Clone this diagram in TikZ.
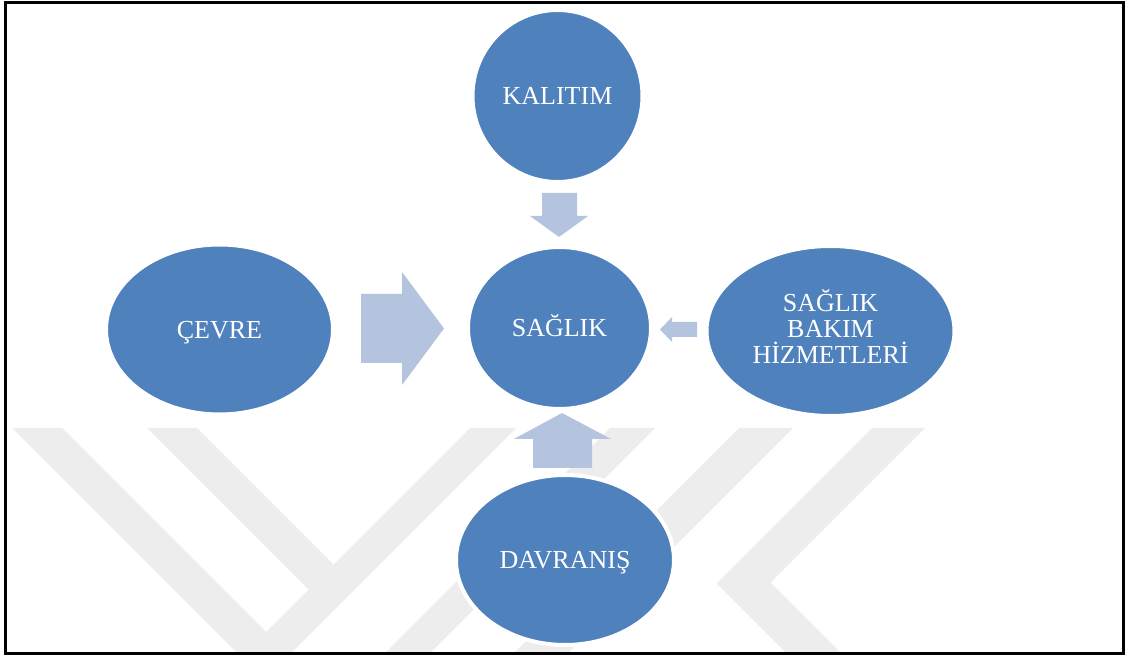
\documentclass[tikz,border=0pt]{standalone}
\usepackage{fontspec}
\setmainfont{Liberation Serif}
\usetikzlibrary{shapes.geometric}
\definecolor{blobblue}{HTML}{4F81BD}
\definecolor{arrowblue}{HTML}{B4C4DF}
\definecolor{wmgray}{HTML}{EDEDED}
\begin{document}
\begin{tikzpicture}[x=0.75pt,y=-0.75pt,
  blob/.style={ellipse, fill=blobblue, draw=white, line width=3pt, inner sep=0pt,
    text=white, font=\fontsize{19.5}{19.5}\selectfont},
  oneline/.style={text height=12.9pt, text depth=0pt},
  blocktext/.style={text=white, font=\fontsize{19.5}{19.5}\selectfont, align=center, inner sep=0pt},
  blockarrow/.style={fill=arrowblue},
  band/.style={fill=wmgray},
  frameline/.style={draw=black, line width=2.25pt}]
\useasboundingbox (0,0) rectangle (1125,655);
\fill[white] (0,0) rectangle (1125,655);
% watermark
\fill[band] (12,428) -- (62,428) -- (288,654) -- (238,654) -- cycle;
\fill[band] (147,428) -- (197,428) -- (333.5,564.5) -- (308.5,589.5) -- cycle;
\fill[band] (470,428) -- (516,428) -- (290,654) -- (244,654) -- cycle;
\fill[band] (610,428) -- (655,428) -- (429,654) -- (384,654) -- cycle;
\fill[band] (739,428) -- (793,428) -- (567,654) -- (513,654) -- cycle;
\fill[band] (872,428) -- (925,428) -- (770.5,582.5) -- (842,654) -- (787,654) -- (716.5,583.5) -- cycle;
% ellipses
\node[blob, oneline, minimum width=127.5pt, minimum height=129pt] (kalitim) at (557.5,96) {KALITIM};
\node[blob, oneline, minimum width=137.25pt, minimum height=121.5pt] (saglik) at (559.5,328) {SAĞLIK};
\node[blob, oneline, minimum width=170.25pt, minimum height=127.5pt] (cevre) at (219.5,329.5) {ÇEVRE};
\node[blob, minimum width=186pt, minimum height=127.5pt] (sbh) at (830.5,331) {};
\node[blocktext, yshift=3.4pt] (sbhtext) at (sbh.center) {SAĞLIK\\BAKIM\\HİZMETLERİ};
\node[blob, oneline, minimum width=163.5pt, minimum height=127.5pt] (davranis) at (565,560) {DAVRANIŞ};
% block arrows
\fill[blockarrow] (542,193) -- (577,193) -- (577,216) -- (588,216) -- (559,237) -- (530,216) -- (542,216) -- cycle;
\fill[blockarrow] (361,294) -- (402,294) -- (402,272) -- (444,328.5) -- (402,385) -- (402,363) -- (361,363) -- cycle;
\fill[blockarrow] (697,322) -- (672,322) -- (672,317) -- (660,329.5) -- (672,342) -- (672,337) -- (697,337) -- cycle;
\fill[blockarrow] (533,468) -- (533,439) -- (514,439) -- (562,413) -- (611,439) -- (592,439) -- (592,468) -- cycle;
% frame
\draw[frameline] (5.3,2.2) rectangle (1123.6,653.7);
\end{tikzpicture}
\end{document}
